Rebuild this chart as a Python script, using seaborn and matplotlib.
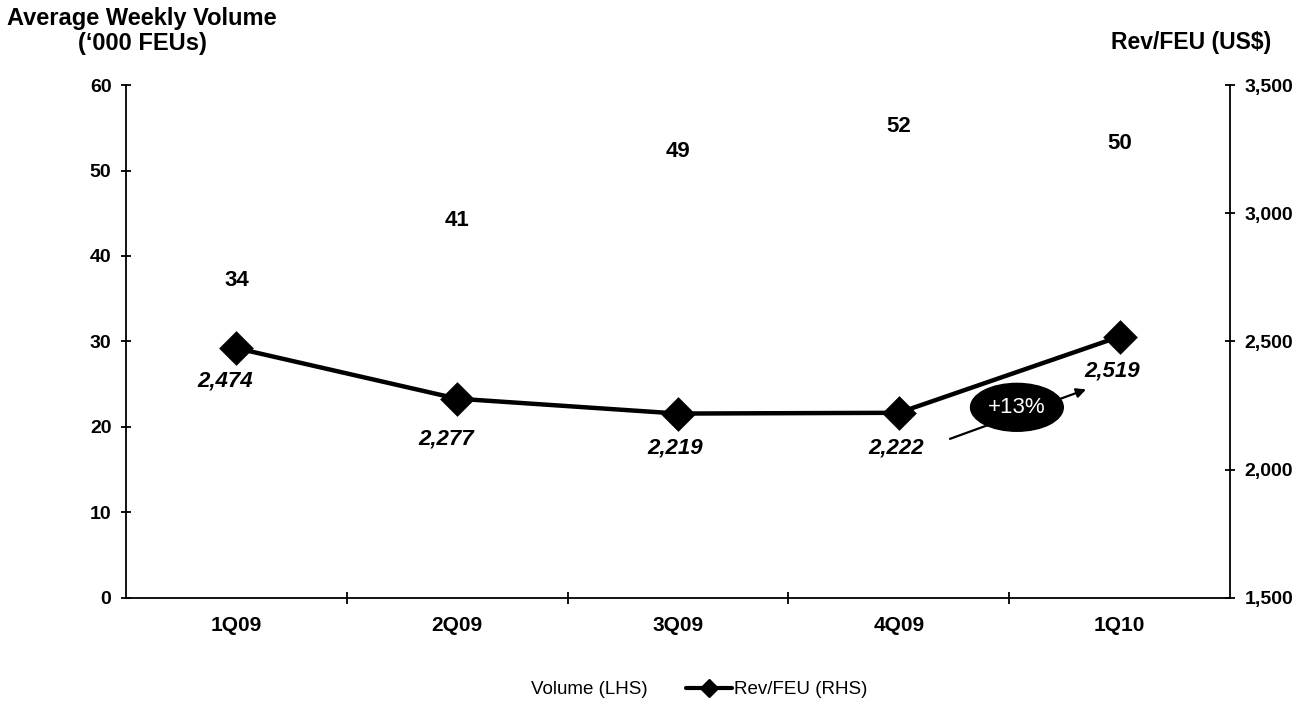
import matplotlib
matplotlib.use("Agg")
import matplotlib.pyplot as plt
from matplotlib.patches import Ellipse, Patch
from matplotlib.lines import Line2D
import seaborn as sns
import pandas as pd

quarters = ["1Q09", "2Q09", "3Q09", "4Q09", "1Q10"]
volume = [34, 41, 49, 52, 50]           # average weekly volume, '000 FEUs
rev_per_feu = [2474, 2277, 2219, 2222, 2519]  # US$
growth_label = "+13%"

sns.set_theme(style="white")
plt.rcParams["font.family"] = ["Liberation Sans", "DejaVu Sans"]
plt.rcParams.update({"text.color": "black", "axes.labelcolor": "black",
                     "xtick.color": "black", "ytick.color": "black"})

df = pd.DataFrame({"quarter": quarters, "volume": volume, "rev": rev_per_feu})

fig = plt.figure(figsize=(13.11, 7.09), dpi=100)
ax = fig.add_axes([0.0961, 0.1566, 0.9382 - 0.0961, 0.8801 - 0.1566])

# volume bars, drawn in white on the white background
sns.barplot(data=df, x="quarter", y="volume", color="white", width=0.6,
            saturation=1, ax=ax, zorder=1)
for i, v in enumerate(volume):
    ax.annotate(f"{v}", (i, v), xytext=(0, 12), textcoords="offset points",
                ha="center", va="bottom", fontsize=16, fontweight="bold",
                color="black")

ax.set_xlim(-0.5, 4.5)
ax.set_ylim(0, 60)
ax.set_yticks(range(0, 61, 10))
ax.set_xlabel("")
ax.set_ylabel("")

ax2 = ax.twinx()
sns.pointplot(data=df, x="quarter", y="rev", color="black", markers="D",
              markersize=15, linewidth=3.2, ax=ax2)
ax2.set_xlim(-0.5, 4.5)
ax2.set_ylim(1500, 3500)
ax2.set_yticks(range(1500, 3501, 500))
ax2.set_yticklabels([f"{t:,}" for t in range(1500, 3501, 500)])
ax2.set_ylabel("")
ax2.set_xlabel("")

label_dx = [-8, -8, -2, -2, -5]
label_dy = [-24, -29, -25, -25, -25]
for i, r in enumerate(rev_per_feu):
    ax2.annotate(f"{r:,}", (i, r), xytext=(label_dx[i], label_dy[i]),
                 textcoords="offset points", ha="center", va="center",
                 fontsize=16, fontweight="bold", fontstyle="italic",
                 color="black")

for a in (ax, ax2):
    a.spines["top"].set_visible(False)
    for s in ("left", "right", "bottom"):
        a.spines[s].set_color("black")
        a.spines[s].set_linewidth(1.3)
    a.tick_params(axis="y", direction="inout", length=7, width=1.3,
                  labelsize=14, colors="black", pad=7)
    for lab in a.get_yticklabels():
        lab.set_fontweight("bold")
ax.spines["right"].set_visible(False)
ax2.spines["left"].set_visible(False)
ax2.spines["bottom"].set_visible(False)
ax.tick_params(axis="y", left=True, right=False)
ax2.tick_params(axis="y", right=True, left=False)

# category labels without ticks, boundary ticks between quarters
ax.set_xticks(range(len(quarters)))
ax.set_xticklabels(quarters)
ax.set_xticks([0.5, 1.5, 2.5, 3.5], minor=True)
ax.tick_params(axis="x", which="major", length=0, labelsize=15, pad=13,
               colors="black")
ax.tick_params(axis="x", which="minor", bottom=True, direction="inout",
               length=9, width=1.3, color="black")
for lab in ax.get_xticklabels():
    lab.set_fontweight("bold")
ax2.tick_params(axis="x", which="both", bottom=False, top=False,
                labelbottom=False)

# growth callout
ax.add_patch(Ellipse((3.535, 22.3), 0.42, 5.6, facecolor="black",
                     edgecolor="black", zorder=5))
ax.text(3.535, 22.3, growth_label, color="white", fontsize=16,
        ha="center", va="center", zorder=6)
ax.annotate("", xy=(3.86, 24.5), xytext=(3.22, 18.5),
            arrowprops=dict(arrowstyle="-|>", color="black", lw=1.6,
                            mutation_scale=14), zorder=4)

fig.text(0.1085, 0.99, "Average Weekly Volume\n(\u2018000 FEUs)",
         ha="center", va="top", fontsize=17, fontweight="bold",
         multialignment="center", linespacing=1.1)
fig.text(0.970, 0.940, "Rev/FEU (US$)", ha="right", va="center",
         fontsize=16.5, fontweight="bold")

handles = [Patch(facecolor="white", edgecolor="white"),
           Line2D([0], [0], color="black", lw=3, marker="D", markersize=9)]
fig.legend(handles, ["Volume (LHS)", "Rev/FEU (RHS)"], loc="center",
           bbox_to_anchor=(0.515, 0.027), ncol=2, frameon=False, fontsize=13.5,
           handlelength=2.5, handletextpad=0.1, columnspacing=2.0)

fig.savefig("out.png", dpi=100, facecolor="white")
